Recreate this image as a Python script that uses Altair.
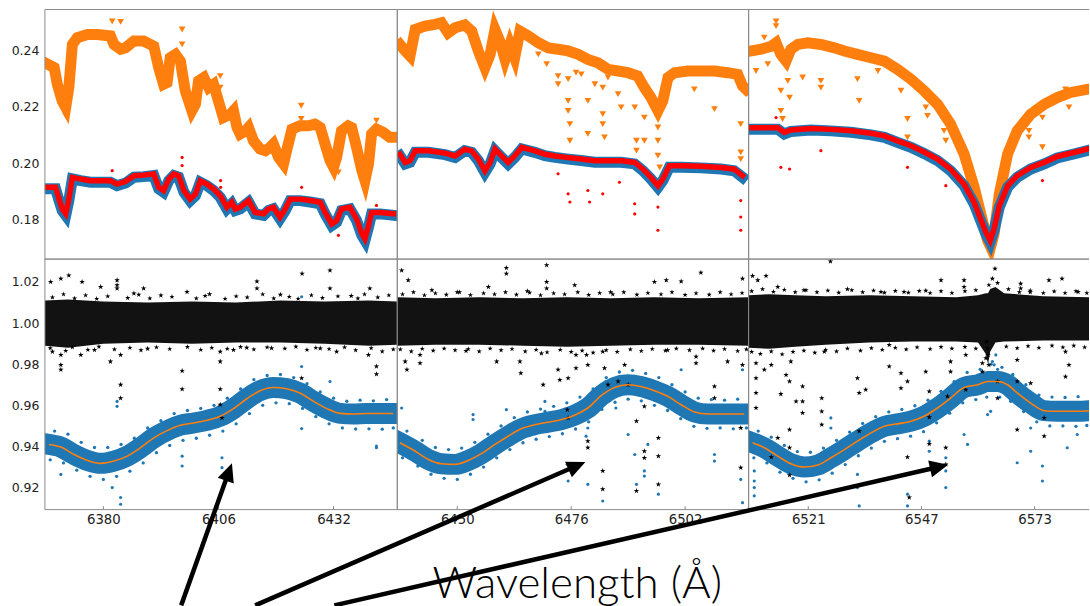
import altair as alt
import pandas as pd

ORANGE = "#ff7f0e"
BLUE = "#1f77b4"
RED = "#ff0000"
GRAY = "#8a8a8a"

# ---------------- axes ----------------
X_DOMAINS = [[6366.8, 6446.4], [6436.3, 6516.5], [6507.3, 6585.5]]
X_TICKS = [[6380, 6406, 6432], [6450, 6476, 6502], [6521, 6547, 6573]]
PANEL_W = [353, 352, 341]
TOP_H, BOT_H = 250, 251
TOP_Y = [0.1661, 0.25446]
BOT_Y = [0.9093, 1.0311]
TOP_TICKS = [0.18, 0.20, 0.22, 0.24]
BOT_TICKS = [0.92, 0.94, 0.96, 0.98, 1.00, 1.02]

# ---------------- top row: spectra ----------------
p1_orange_wl = [6367.4, 6368.9, 6369.6, 6370.7, 6371.5, 6372.2, 6373.0, 6374.1, 6376.4, 6378.6,
                6381.6, 6382.4, 6383.9, 6385.0, 6386.9, 6389.1, 6391.4, 6392.5, 6393.6, 6394.4,
                6395.1, 6396.3, 6397.4, 6398.5, 6400.0, 6400.8, 6401.5, 6402.7, 6403.8, 6404.9,
                6406.0, 6407.1, 6408.7, 6409.4, 6410.2, 6410.9, 6412.1, 6412.8, 6413.9, 6415.4,
                6416.6, 6417.7, 6418.4, 6419.6, 6420.7, 6421.4, 6422.6, 6424.4, 6426.3, 6427.8,
                6429.0, 6430.1, 6431.2, 6432.0, 6432.7, 6433.8, 6435.3, 6436.1, 6437.2, 6438.4,
                6439.1, 6439.9, 6440.6, 6441.7, 6443.2, 6444.7, 6445.8]
p1_orange_v = [0.2351, 0.2339, 0.2280, 0.2221, 0.2198, 0.2268, 0.2421, 0.2445, 0.2456, 0.2456,
               0.2451, 0.2421, 0.2404, 0.2409, 0.2433, 0.2433, 0.2415, 0.2339, 0.2280, 0.2286,
               0.2374, 0.2386, 0.2362, 0.2257, 0.2186, 0.2209, 0.2292, 0.2304, 0.2268, 0.2280,
               0.2221, 0.2162, 0.2174, 0.2186, 0.2127, 0.2104, 0.2115, 0.2127, 0.2080, 0.2051,
               0.2045, 0.2057, 0.2068, 0.2021, 0.1998, 0.2045, 0.2121, 0.2133, 0.2133, 0.2139,
               0.2127, 0.2068, 0.2010, 0.1986, 0.2021, 0.2115, 0.2133, 0.2127, 0.2057, 0.1974,
               0.1939, 0.1998, 0.2104, 0.2121, 0.2110, 0.2092, 0.2092]
p1_blue_wl = [6367.4, 6369.2, 6370.0, 6370.7, 6371.5, 6372.2, 6373.0, 6374.9, 6377.1, 6379.4,
              6381.6, 6383.1, 6385.0, 6386.9, 6389.1, 6391.4, 6392.5, 6393.6, 6394.8, 6395.9,
              6397.0, 6398.2, 6399.6, 6400.8, 6401.9, 6403.4, 6404.9, 6406.4, 6407.9, 6409.0,
              6409.8, 6410.9, 6412.8, 6414.3, 6416.2, 6417.3, 6418.4, 6419.9, 6421.1, 6422.2,
              6424.4, 6426.7, 6429.0, 6430.1, 6431.6, 6432.7, 6433.8, 6435.7, 6437.2, 6438.4,
              6439.1, 6439.9, 6440.6, 6442.5, 6445.5]
p1_blue_v = [0.1910, 0.1910, 0.1868, 0.1833, 0.1816, 0.1868, 0.1945, 0.1939, 0.1933, 0.1933,
             0.1933, 0.1921, 0.1930, 0.1951, 0.1953, 0.1957, 0.1910, 0.1898, 0.1939, 0.1957,
             0.1951, 0.1898, 0.1868, 0.1886, 0.1933, 0.1921, 0.1904, 0.1880, 0.1839, 0.1857,
             0.1833, 0.1839, 0.1863, 0.1821, 0.1816, 0.1833, 0.1839, 0.1804, 0.1833, 0.1868,
             0.1868, 0.1863, 0.1857, 0.1821, 0.1780, 0.1792, 0.1833, 0.1839, 0.1798, 0.1745,
             0.1727, 0.1774, 0.1821, 0.1821, 0.1816]

p2_orange_wl = [6436.9, 6438.1, 6439.2, 6440.4, 6442.6, 6444.9, 6446.4, 6447.9, 6449.5, 6451.7,
                6453.3, 6454.8, 6456.3, 6457.5, 6458.6, 6459.7, 6460.9, 6462.0, 6463.1, 6464.3,
                6466.2, 6468.5, 6470.8, 6473.0, 6475.3, 6477.6, 6479.8, 6482.1, 6484.4, 6486.7,
                6488.9, 6491.2, 6492.7, 6494.2, 6495.8, 6496.9, 6498.1, 6499.6, 6502.6, 6505.6,
                6508.7, 6511.7, 6514.0, 6515.1, 6515.9]
p2_orange_v = [0.2421, 0.2398, 0.2380, 0.2474, 0.2486, 0.2492, 0.2498, 0.2462, 0.2480, 0.2490,
               0.2468, 0.2398, 0.2339, 0.2386, 0.2474, 0.2433, 0.2368, 0.2421, 0.2374, 0.2468,
               0.2451, 0.2427, 0.2409, 0.2404, 0.2398, 0.2386, 0.2368, 0.2356, 0.2333, 0.2327,
               0.2321, 0.2309, 0.2268, 0.2233, 0.2186, 0.2221, 0.2304, 0.2321, 0.2327, 0.2327,
               0.2327, 0.2321, 0.2315, 0.2274, 0.2262]
p2_blue_wl = [6436.9, 6438.1, 6439.2, 6440.4, 6443.4, 6447.2, 6449.5, 6451.7, 6453.3, 6454.8,
              6456.3, 6457.5, 6458.6, 6460.1, 6461.6, 6463.1, 6464.7, 6467.7, 6470.0, 6472.3,
              6475.3, 6478.3, 6481.4, 6484.4, 6487.4, 6490.5, 6492.4, 6494.2, 6495.8, 6496.9,
              6498.4, 6501.1, 6505.6, 6510.2, 6513.2, 6515.1]
p2_blue_v = [0.2027, 0.1998, 0.2004, 0.2039, 0.2039, 0.2031, 0.2021, 0.2045, 0.2039, 0.2010,
             0.1968, 0.1998, 0.2045, 0.2021, 0.1998, 0.2021, 0.2051, 0.2039, 0.2027, 0.2021,
             0.2015, 0.2010, 0.2004, 0.2004, 0.2004, 0.1998, 0.1974, 0.1945, 0.1915, 0.1939,
             0.1986, 0.1986, 0.1984, 0.1980, 0.1974, 0.1951]

p3_orange_wl = [6507.9, 6510.2, 6512.5, 6513.6, 6514.7, 6515.9, 6517.0, 6518.6, 6520.9, 6523.9,
                6527.0, 6529.3, 6532.3, 6535.4, 6538.5, 6541.5, 6544.6, 6547.6, 6550.7, 6553.7,
                6556.8, 6559.1, 6561.0, 6562.2, 6562.9, 6563.7, 6564.9, 6566.8, 6569.0, 6572.1,
                6575.2, 6578.2, 6581.3, 6585.1]
p3_orange_v = [0.2398, 0.2404, 0.2415, 0.2427, 0.2386, 0.2362, 0.2404, 0.2421, 0.2427, 0.2421,
               0.2409, 0.2398, 0.2386, 0.2374, 0.2362, 0.2333, 0.2298, 0.2257, 0.2209, 0.2139,
               0.2033, 0.1916, 0.1798, 0.1727, 0.1704, 0.1751, 0.1892, 0.2033, 0.2115, 0.2174,
               0.2209, 0.2233, 0.2251, 0.2262]
p3_blue_wl = [6507.9, 6510.9, 6514.0, 6515.5, 6517.0, 6521.6, 6526.2, 6530.8, 6535.4, 6538.5,
              6541.5, 6544.6, 6547.6, 6550.7, 6553.7, 6556.8, 6559.1, 6560.6, 6561.8, 6562.8,
              6563.7, 6564.9, 6566.8, 6569.0, 6572.1, 6575.2, 6578.2, 6582.0, 6585.1]
p3_blue_v = [0.2121, 0.2121, 0.2121, 0.2104, 0.2113, 0.2118, 0.2115, 0.2110, 0.2101, 0.2092,
             0.2074, 0.2057, 0.2035, 0.2010, 0.1974, 0.1921, 0.1857, 0.1798, 0.1751, 0.1721,
             0.1763, 0.1845, 0.1915, 0.1951, 0.1980, 0.1998, 0.2019, 0.2033, 0.2045]

# outliers [wavelength, flux]
p1_orange_out = [[6382.0, 0.2503], [6383.9, 0.2501], [6397.8, 0.2474], [6397.8, 0.2421],
                 [6406.4, 0.2309], [6406.4, 0.2268], [6424.7, 0.2204], [6424.7, 0.2157],
                 [6433.1, 0.1968], [6441.7, 0.2151], [6371.5, 0.2168]]
p1_blue_out = [[6383.1, 0.2021], [6383.1, 0.1998], [6424.8, 0.1980], [6424.8, 0.1927]]
p1_red_out = [[6382.0, 0.1974], [6397.8, 0.2021], [6397.8, 0.1992], [6406.5, 0.1939],
              [6406.5, 0.1915], [6424.8, 0.1915], [6441.7, 0.1851], [6433.1, 0.1745]]

p2_orange_out = [[6473.0, 0.2309], [6473.0, 0.2280], [6475.3, 0.2221], [6475.3, 0.2186],
                 [6475.7, 0.2139], [6475.7, 0.2080], [6478.3, 0.2315], [6479.8, 0.2221],
                 [6479.8, 0.2104], [6483.2, 0.2268], [6483.2, 0.2174], [6483.2, 0.2139],
                 [6483.6, 0.2092], [6486.7, 0.2245], [6487.4, 0.2198], [6490.5, 0.2198],
                 [6490.9, 0.2080], [6490.9, 0.2045], [6492.7, 0.2162], [6492.7, 0.2080],
                 [6495.8, 0.2127], [6495.8, 0.2080], [6495.8, 0.2027], [6496.2, 0.1986],
                 [6514.7, 0.2139], [6514.7, 0.2039], [6514.7, 0.2015], [6508.7, 0.2192],
                 [6504.1, 0.2262], [6484.4, 0.2304], [6470.4, 0.2351], [6475.3, 0.2298],
                 [6477.1, 0.2321], [6468.5, 0.2386], [6481.4, 0.2280]]
p2_blue_out = [[6468.9, 0.2121], [6453.4, 0.2074], [6469.2, 0.2074], [6475.3, 0.1857],
               [6475.7, 0.1821], [6475.7, 0.1780], [6480.2, 0.1810], [6483.2, 0.1863],
               [6483.2, 0.1798], [6486.8, 0.1892], [6490.5, 0.1792], [6490.9, 0.1763],
               [6492.7, 0.1863], [6492.7, 0.1821], [6495.8, 0.1845], [6495.8, 0.1774],
               [6495.9, 0.1733], [6495.9, 0.1704], [6514.7, 0.1845], [6514.7, 0.1710],
               [6472.3, 0.1915], [6473.0, 0.1945], [6508.7, 0.1927], [6497.7, 0.1880],
               [6479.4, 0.1939]]
p2_red_out = [[6473.0, 0.1963], [6475.3, 0.1892], [6475.7, 0.1863], [6479.8, 0.1904],
              [6480.2, 0.1863], [6483.2, 0.1892], [6487.0, 0.1933], [6490.5, 0.1857],
              [6490.5, 0.1821], [6495.8, 0.1845], [6495.8, 0.1763], [6514.7, 0.1868],
              [6514.7, 0.1810], [6514.7, 0.1763]]

p3_orange_out = [[6513.6, 0.2503], [6513.6, 0.2486], [6510.9, 0.2445], [6509.0, 0.2327],
                 [6511.7, 0.2351], [6514.7, 0.2257], [6514.7, 0.2186], [6515.1, 0.2157],
                 [6516.3, 0.2292], [6516.7, 0.2233], [6519.7, 0.2304], [6523.9, 0.2292],
                 [6523.9, 0.2268], [6532.3, 0.2298], [6532.7, 0.2221], [6537.0, 0.2327],
                 [6542.3, 0.2257], [6543.8, 0.2157], [6543.8, 0.2092], [6548.0, 0.2198],
                 [6548.4, 0.2168], [6552.2, 0.2115], [6552.6, 0.2080], [6556.8, 0.1998],
                 [6571.7, 0.2115], [6571.7, 0.2092], [6574.8, 0.2162], [6574.8, 0.2057],
                 [6580.1, 0.2262], [6580.9, 0.2198]]
p3_blue_out = [[6508.6, 0.2045], [6512.1, 0.2057], [6514.7, 0.1963], [6514.7, 0.1927],
               [6516.7, 0.1951], [6519.7, 0.2021], [6523.9, 0.2033], [6532.3, 0.1986],
               [6532.7, 0.2021], [6543.8, 0.1951], [6543.8, 0.1904], [6548.4, 0.1951],
               [6552.6, 0.1880], [6557.2, 0.1921], [6572.1, 0.1933], [6574.8, 0.1898],
               [6580.5, 0.2004]]
p3_red_out = [[6513.6, 0.2162], [6514.7, 0.1986], [6516.7, 0.1980], [6523.9, 0.2045],
              [6543.8, 0.1986], [6552.6, 0.1921], [6574.8, 0.1939]]

# ---------------- bottom row: normalised spectra ----------------
p1_fit_wl = [6367.7, 6370.4, 6373.4, 6376.4, 6379.4, 6382.4, 6385.4, 6388.4, 6391.4, 6394.4,
             6397.4, 6400.4, 6403.4, 6406.4, 6409.4, 6412.4, 6415.4, 6418.4, 6421.4, 6424.4,
             6427.5, 6430.5, 6433.5, 6436.5, 6439.5, 6445.5]
p1_fit_v = [0.9410, 0.9397, 0.9361, 0.9332, 0.9318, 0.9329, 0.9353, 0.9394, 0.9442, 0.9477,
            0.9503, 0.9514, 0.9527, 0.9547, 0.9584, 0.9632, 0.9671, 0.9687, 0.9681, 0.9660,
            0.9619, 0.9584, 0.9561, 0.9558, 0.9560, 0.9560]
p2_fit_wl = [6436.9, 6440.4, 6443.4, 6446.4, 6449.5, 6452.5, 6455.5, 6458.6, 6461.6, 6464.7,
             6467.7, 6470.7, 6473.8, 6476.8, 6479.8, 6482.9, 6485.9, 6488.9, 6491.9, 6495.0,
             6498.0, 6501.1, 6504.1, 6507.2, 6511.7, 6515.5]
p2_fit_v = [0.9418, 0.9377, 0.9337, 0.9316, 0.9313, 0.9332, 0.9365, 0.9410, 0.9450, 0.9487,
            0.9506, 0.9518, 0.9531, 0.9552, 0.9587, 0.9648, 0.9687, 0.9700, 0.9692, 0.9671,
            0.9644, 0.9603, 0.9568, 0.9558, 0.9558, 0.9558]
p3_fit_wl = [6508.2, 6510.9, 6514.0, 6517.0, 6520.1, 6523.2, 6526.2, 6529.3, 6532.3, 6535.4,
             6538.5, 6541.5, 6544.6, 6547.6, 6550.7, 6553.7, 6556.8, 6559.9, 6562.2, 6564.5,
             6566.8, 6569.0, 6572.1, 6575.2, 6578.2, 6582.8, 6585.5]
p3_fit_v = [0.9418, 0.9394, 0.9353, 0.9316, 0.9300, 0.9310, 0.9345, 0.9385, 0.9426, 0.9466,
            0.9498, 0.9510, 0.9523, 0.9547, 0.9587, 0.9635, 0.9687, 0.9700, 0.9716, 0.9716,
            0.9700, 0.9660, 0.9611, 0.9574, 0.9571, 0.9571, 0.9574]

# dense core of the black (ratio) points
p1_band_wl = [6366.8, 6372, 6380, 6390, 6400, 6410, 6420, 6430, 6440, 6446.4]
p1_band_hi = [1.0110, 1.0115, 1.0105, 1.0100, 1.0105, 1.0100, 1.0110, 1.0105, 1.0110, 1.0105]
p1_band_lo = [0.9890, 0.9880, 0.9900, 0.9905, 0.9900, 0.9905, 0.9905, 0.9900, 0.9890, 0.9895]
p2_band_wl = [6436.3, 6445, 6455, 6465, 6475, 6485, 6495, 6505, 6516.5]
p2_band_hi = [1.0125, 1.0120, 1.0125, 1.0120, 1.0125, 1.0120, 1.0125, 1.0120, 1.0125]
p2_band_lo = [0.9890, 0.9895, 0.9895, 0.9890, 0.9885, 0.9890, 0.9895, 0.9895, 0.9890]
p3_band_wl = [6507.3, 6512, 6518, 6525, 6535, 6545, 6555, 6560, 6561.8, 6562.3, 6562.8,
              6564, 6566, 6575, 6585.5]
p3_band_hi = [1.0135, 1.0140, 1.0135, 1.0130, 1.0135, 1.0130, 1.0125, 1.0135, 1.0145, 1.0145,
              1.0165, 1.0175, 1.0145, 1.0130, 1.0125]
p3_band_lo = [0.9880, 0.9875, 0.9885, 0.9895, 0.9905, 0.9910, 0.9910, 0.9905, 0.9850, 0.9800,
              0.9860, 0.9905, 0.9910, 0.9915, 0.9915]

# black points scattered just outside the dense core
p1_star_edge = [[6368.5, 1.0125], [6371.0, 1.0140], [6373.5, 1.0120], [6376.0, 1.0135], [6378.5, 1.0118],
                [6381.0, 1.0130], [6385.5, 1.0122], [6388.0, 1.0138], [6390.5, 1.0120], [6395.5, 1.0128],
                [6401.0, 1.0120], [6403.0, 1.0132], [6407.5, 1.0118], [6410.0, 1.0130], [6412.5, 1.0125],
                [6416.0, 1.0140], [6418.5, 1.0120], [6422.0, 1.0128], [6424.0, 1.0118], [6427.0, 1.0135],
                [6429.5, 1.0122], [6433.0, 1.0130], [6437.5, 1.0120], [6439.0, 1.0140], [6442.0, 1.0125],
                [6444.5, 1.0135], [6368.0, 0.9878], [6371.5, 0.9865], [6373.0, 0.9882], [6376.5, 0.9870],
                [6379.0, 0.9885], [6382.5, 0.9872], [6386.0, 0.9880], [6388.5, 0.9868], [6392.0, 0.9882],
                [6395.0, 0.9874], [6399.0, 0.9884], [6402.0, 0.9870], [6404.5, 0.9880], [6408.0, 0.9875],
                [6411.0, 0.9884], [6414.0, 0.9872], [6417.0, 0.9882], [6421.0, 0.9876], [6423.5, 0.9885],
                [6426.0, 0.9870], [6428.0, 0.9880], [6431.0, 0.9874], [6434.5, 0.9882], [6437.0, 0.9868],
                [6440.5, 0.9878], [6443.0, 0.9862], [6445.5, 0.9872]]
p2_star_edge = [[6437.5, 1.0140], [6440.0, 1.0150], [6442.5, 1.0135], [6445.0, 1.0145], [6447.5, 1.0138],
                [6450.5, 1.0150], [6453.0, 1.0136], [6456.0, 1.0145], [6458.5, 1.0140], [6461.0, 1.0150],
                [6463.5, 1.0138], [6466.5, 1.0148], [6469.0, 1.0135], [6472.0, 1.0145], [6474.5, 1.0140],
                [6477.5, 1.0150], [6480.0, 1.0137], [6482.5, 1.0146], [6485.5, 1.0140], [6488.0, 1.0150],
                [6491.0, 1.0138], [6493.5, 1.0146], [6496.5, 1.0140], [6499.0, 1.0150], [6502.0, 1.0137],
                [6504.5, 1.0145], [6507.5, 1.0138], [6510.0, 1.0150], [6512.5, 1.0140], [6515.0, 1.0146],
                [6437.0, 0.9872], [6439.5, 0.9862], [6442.0, 0.9875], [6444.5, 0.9866], [6447.0, 0.9876],
                [6449.5, 0.9868], [6452.5, 0.9874], [6455.0, 0.9862], [6457.5, 0.9876], [6460.0, 0.9868],
                [6462.5, 0.9874], [6465.5, 0.9862], [6468.0, 0.9870], [6470.5, 0.9858], [6473.5, 0.9870],
                [6476.0, 0.9860], [6478.5, 0.9866], [6481.0, 0.9856], [6484.0, 0.9868], [6486.5, 0.9860],
                [6489.5, 0.9872], [6492.0, 0.9864], [6494.5, 0.9874], [6497.5, 0.9866], [6500.0, 0.9876],
                [6503.0, 0.9868], [6506.0, 0.9876], [6508.5, 0.9866], [6511.0, 0.9874], [6514.0, 0.9864],
                [6516.0, 0.9872]]
p3_star_edge = [[6508.0, 1.0155], [6510.5, 1.0165], [6513.0, 1.0152], [6515.5, 1.0162], [6518.0, 1.0150],
                [6520.5, 1.0160], [6523.0, 1.0150], [6525.5, 1.0158], [6528.0, 1.0148], [6531.0, 1.0160],
                [6533.5, 1.0150], [6536.0, 1.0158], [6538.5, 1.0148], [6541.0, 1.0156], [6544.0, 1.0148],
                [6546.5, 1.0156], [6549.0, 1.0146], [6551.5, 1.0155], [6554.0, 1.0146], [6557.0, 1.0155],
                [6559.5, 1.0160], [6562.5, 1.0185], [6564.5, 1.0195], [6567.0, 1.0165], [6569.5, 1.0150],
                [6572.0, 1.0158], [6575.0, 1.0146], [6577.5, 1.0154], [6580.0, 1.0146], [6582.5, 1.0155],
                [6585.0, 1.0146], [6508.0, 0.9860], [6510.0, 0.9850], [6512.5, 0.9862], [6515.0, 0.9848],
                [6517.5, 0.9860], [6520.0, 0.9866], [6522.5, 0.9856], [6525.0, 0.9870], [6527.5, 0.9862],
                [6530.0, 0.9876], [6533.0, 0.9866], [6535.5, 0.9878], [6538.0, 0.9870], [6541.0, 0.9880],
                [6543.5, 0.9872], [6546.0, 0.9882], [6549.0, 0.9874], [6551.5, 0.9884], [6554.0, 0.9876],
                [6557.0, 0.9884], [6559.5, 0.9876], [6566.5, 0.9886], [6569.0, 0.9878], [6571.5, 0.9888],
                [6574.0, 0.9880], [6577.0, 0.9890], [6579.5, 0.9882], [6582.0, 0.9890], [6584.5, 0.9882]]

# blue points scattered along the edges of the blue band
p1_blue_edge = [[6369.0, 0.9475], [6372.0, 0.9460], [6375.0, 0.9420], [6378.0, 0.9395], [6381.0, 0.9395],
                [6384.0, 0.9410], [6387.0, 0.9440], [6390.0, 0.9490], [6393.0, 0.9525], [6396.0, 0.9560],
                [6399.0, 0.9575], [6402.0, 0.9585], [6405.0, 0.9600], [6408.0, 0.9635], [6411.0, 0.9680],
                [6414.0, 0.9725], [6417.0, 0.9745], [6420.0, 0.9750], [6423.0, 0.9735], [6426.0, 0.9705],
                [6429.0, 0.9665], [6432.0, 0.9635], [6435.0, 0.9620], [6438.0, 0.9625], [6441.0, 0.9622],
                [6444.0, 0.9628], [6368.0, 0.9335], [6371.0, 0.9320], [6374.0, 0.9285], [6377.0, 0.9255],
                [6380.0, 0.9240], [6383.0, 0.9255], [6386.0, 0.9280], [6389.0, 0.9320], [6392.0, 0.9370],
                [6395.0, 0.9405], [6398.0, 0.9430], [6401.0, 0.9440], [6404.0, 0.9455], [6407.0, 0.9475],
                [6410.0, 0.9510], [6413.0, 0.9560], [6416.0, 0.9600], [6419.0, 0.9612], [6422.0, 0.9608],
                [6425.0, 0.9585], [6428.0, 0.9545], [6431.0, 0.9510], [6434.0, 0.9490], [6437.0, 0.9485],
                [6440.0, 0.9486], [6443.0, 0.9484], [6445.5, 0.9490]]
p2_blue_edge = [[6438.5, 0.9475], [6442.0, 0.9430], [6445.0, 0.9395], [6448.0, 0.9385], [6451.0, 0.9392],
                [6454.0, 0.9420], [6457.0, 0.9460], [6460.0, 0.9500], [6463.0, 0.9540], [6466.0, 0.9568],
                [6469.0, 0.9582], [6472.0, 0.9595], [6475.0, 0.9612], [6478.0, 0.9640], [6481.0, 0.9680],
                [6484.0, 0.9735], [6487.0, 0.9762], [6490.0, 0.9770], [6493.0, 0.9755], [6496.0, 0.9735],
                [6499.0, 0.9700], [6502.0, 0.9665], [6505.0, 0.9635], [6508.0, 0.9628], [6511.0, 0.9625],
                [6514.0, 0.9630], [6437.5, 0.9345], [6441.0, 0.9305], [6444.0, 0.9265], [6447.0, 0.9245],
                [6450.0, 0.9240], [6453.0, 0.9265], [6456.0, 0.9300], [6459.0, 0.9345], [6462.0, 0.9385],
                [6465.0, 0.9418], [6468.0, 0.9435], [6471.0, 0.9448], [6474.0, 0.9462], [6477.0, 0.9485],
                [6480.0, 0.9520], [6483.0, 0.9580], [6486.0, 0.9615], [6489.0, 0.9630], [6492.0, 0.9622],
                [6495.0, 0.9600], [6498.0, 0.9575], [6501.0, 0.9535], [6504.0, 0.9498], [6507.0, 0.9488],
                [6510.0, 0.9490], [6513.0, 0.9486], [6516.0, 0.9490]]
p3_blue_edge = [[6509.5, 0.9475], [6512.5, 0.9445], [6515.5, 0.9405], [6518.5, 0.9375], [6521.5, 0.9372],
                [6524.5, 0.9392], [6527.5, 0.9430], [6530.5, 0.9470], [6533.5, 0.9512], [6536.5, 0.9545],
                [6539.5, 0.9568], [6542.5, 0.9580], [6545.5, 0.9598], [6548.5, 0.9625], [6551.5, 0.9668],
                [6554.5, 0.9715], [6557.5, 0.9760], [6560.5, 0.9775], [6563.0, 0.9800], [6565.5, 0.9785],
                [6568.0, 0.9750], [6571.0, 0.9700], [6574.0, 0.9650], [6577.0, 0.9640], [6580.0, 0.9638],
                [6583.0, 0.9642], [6508.5, 0.9345], [6511.5, 0.9320], [6514.5, 0.9275], [6517.5, 0.9245],
                [6520.5, 0.9228], [6523.5, 0.9238], [6526.5, 0.9270], [6529.5, 0.9312], [6532.5, 0.9355],
                [6535.5, 0.9392], [6538.5, 0.9425], [6541.5, 0.9438], [6544.5, 0.9450], [6547.5, 0.9472],
                [6550.5, 0.9515], [6553.5, 0.9562], [6556.5, 0.9612], [6559.5, 0.9628], [6562.0, 0.9640],
                [6565.0, 0.9640], [6567.5, 0.9620], [6570.5, 0.9570], [6573.5, 0.9520], [6576.5, 0.9500],
                [6579.5, 0.9500], [6582.5, 0.9498], [6585.0, 0.9502]]

p1_stars = [[6368.1, 1.0200], [6370.4, 1.0216], [6372.2, 1.0232], [6375.2, 1.0200],
            [6379.4, 1.0176], [6383.1, 1.0208], [6383.1, 1.0184], [6383.1, 1.0168],
            [6386.9, 1.0144], [6389.1, 1.0168], [6398.9, 1.0152], [6414.7, 1.0203],
            [6414.7, 1.0168], [6424.9, 1.0240], [6431.2, 1.0256], [6431.2, 1.0168],
            [6440.2, 1.0168], [6368.5, 0.9861], [6370.4, 0.9845], [6370.4, 0.9797],
            [6370.4, 0.9773], [6374.9, 0.9845], [6381.6, 0.9813], [6383.9, 0.9845],
            [6383.9, 0.9700], [6383.9, 0.9635], [6397.8, 0.9768], [6397.8, 0.9679],
            [6406.4, 0.9861], [6406.4, 0.9813], [6406.4, 0.9679], [6406.4, 0.9603],
            [6406.8, 0.9539], [6424.8, 0.9732], [6439.9, 0.9845], [6441.7, 0.9789],
            [6441.7, 0.9752], [6432.7, 0.9861], [6429.0, 0.9877], [6409.4, 0.9869],
            [6412.4, 0.9880], [6393.0, 1.0135], [6404.0, 1.0140], [6420.0, 1.0138],
            [6436.0, 1.0132], [6378.0, 0.9870], [6390.0, 0.9875], [6418.0, 0.9878]]
p1_blue_out = [[6383.1, 0.9619], [6383.1, 0.9595], [6397.8, 0.9353], [6397.8, 0.9305],
               [6383.9, 0.9152], [6383.9, 0.9119], [6406.8, 0.9345], [6406.8, 0.9297],
               [6424.8, 0.9487], [6431.2, 0.9716], [6441.7, 0.9402], [6441.7, 0.9394],
               [6424.8, 0.9789], [6370.4, 0.9264], [6382.0, 0.9200], [6424.8, 1.0128]]

p2_stars = [[6437.3, 1.0256], [6438.8, 1.0208], [6461.2, 1.0268], [6461.2, 1.0240],
            [6470.4, 1.0281], [6470.4, 1.0200], [6470.4, 1.0168], [6476.8, 1.0184],
            [6495.0, 1.0200], [6497.7, 1.0208], [6501.1, 1.0203], [6505.6, 1.0245],
            [6515.1, 1.0216], [6457.1, 1.0176], [6444.2, 1.0160], [6438.1, 0.9813],
            [6438.5, 0.9773], [6441.5, 0.9845], [6441.5, 0.9805], [6459.0, 0.9813],
            [6464.3, 0.9813], [6464.5, 0.9756], [6469.2, 0.9853], [6469.6, 0.9700],
            [6473.0, 0.9773], [6473.4, 0.9724], [6475.3, 0.9732], [6475.1, 0.9579],
            [6475.3, 0.9539], [6477.1, 0.9845], [6477.1, 0.9781], [6479.5, 0.9845],
            [6479.8, 0.9797], [6479.8, 0.9426], [6479.8, 0.9394], [6483.2, 0.9281],
            [6483.2, 0.9192], [6483.2, 0.9861], [6483.6, 0.9781], [6488.2, 0.9797],
            [6490.9, 0.9523], [6490.9, 0.9184], [6492.7, 0.9595], [6492.7, 0.9377],
            [6492.7, 0.9345], [6495.9, 0.9442], [6495.9, 0.9353], [6495.9, 0.9216],
            [6508.7, 0.9692], [6508.7, 0.9635], [6514.7, 0.9490], [6514.7, 0.9297],
            [6515.1, 0.9797], [6511.7, 0.9813], [6504.5, 0.9837], [6504.5, 0.9805],
            [6486.7, 0.9716], [6489.0, 0.9700], [6484.4, 0.9700], [6450.0, 1.0150],
            [6466.0, 1.0155], [6485.0, 1.0150], [6452.0, 0.9865], [6498.0, 0.9868]]
p2_blue_out = [[6437.3, 0.9587], [6453.6, 0.9555], [6453.6, 0.9531], [6461.2, 0.9579],
               [6470.0, 0.9619], [6470.0, 0.9571], [6470.4, 0.9523], [6475.1, 0.9313],
               [6475.3, 0.9232], [6479.8, 0.9216], [6483.2, 0.9135], [6479.8, 0.9490],
               [6479.4, 0.9450], [6483.9, 0.9716], [6486.2, 0.9587], [6490.5, 0.9361],
               [6490.9, 0.9216], [6492.7, 0.9281], [6492.7, 0.9256], [6495.9, 0.9168],
               [6501.1, 0.9773], [6508.7, 0.9361], [6508.7, 0.9329], [6514.7, 0.9240],
               [6515.1, 0.9127], [6515.1, 0.9773], [6489.0, 0.9458], [6493.5, 0.9410]]

p3_stars = [[6508.2, 1.0229], [6509.4, 1.0208], [6511.3, 1.0229], [6526.1, 1.0300],
            [6551.5, 1.0208], [6556.8, 1.0208], [6556.8, 1.0176], [6563.9, 1.0265],
            [6563.3, 1.0216], [6569.8, 1.0192], [6569.8, 1.0168], [6576.3, 1.0208],
            [6579.3, 1.0216], [6514.0, 1.0176], [6537.7, 1.0152], [6543.0, 1.0152],
            [6509.0, 0.9805], [6509.0, 0.9732], [6509.0, 0.9660], [6509.0, 0.9587],
            [6510.9, 0.9773], [6512.5, 0.9797], [6512.5, 0.9348], [6514.0, 0.9442],
            [6514.7, 0.9655], [6515.9, 0.9748], [6516.7, 0.9716], [6517.0, 0.9813],
            [6516.7, 0.9482], [6516.7, 0.9394], [6516.7, 0.9261], [6518.2, 0.9619],
            [6519.7, 0.9619], [6519.7, 0.9563], [6519.7, 0.9692], [6524.1, 0.9635],
            [6524.1, 0.9571], [6524.1, 0.9506], [6524.7, 0.9861], [6532.3, 0.9732],
            [6532.7, 0.9660], [6532.7, 0.9474], [6534.2, 0.9676], [6539.6, 0.9894],
            [6539.6, 0.9789], [6542.3, 0.9756], [6542.3, 0.9684], [6543.8, 0.9716],
            [6543.8, 0.9348], [6544.2, 0.9152], [6548.0, 0.9764], [6548.8, 0.9668],
            [6548.8, 0.9542], [6548.8, 0.9413], [6552.6, 0.9394], [6552.6, 0.9313],
            [6553.0, 0.9644], [6553.7, 0.9813], [6553.7, 0.9764], [6557.2, 0.9845],
            [6557.2, 0.9676], [6561.0, 0.9805], [6561.0, 0.9764], [6561.8, 0.9829],
            [6564.5, 0.9716], [6564.5, 0.9635], [6569.0, 0.9821], [6569.0, 0.9716],
            [6569.0, 0.9482], [6572.1, 0.9708], [6575.2, 0.9539], [6575.2, 0.9450],
            [6580.1, 0.9740], [6580.9, 0.9797], [6580.1, 0.9861], [6562.2, 0.9877],
            [6562.3, 0.9845], [6562.5, 0.9797], [6562.0, 0.9910], [6520.0, 1.0160],
            [6530.0, 1.0165], [6548.0, 1.0158], [6572.0, 1.0150], [6583.0, 1.0152]]
p3_blue_out = [[6508.6, 0.9281], [6508.6, 0.9232], [6508.6, 0.9200], [6508.6, 0.9160],
               [6526.2, 0.9539], [6526.2, 0.9490], [6532.3, 0.9264], [6532.3, 0.9200],
               [6532.7, 0.9111], [6543.8, 0.9168], [6543.8, 0.9111], [6548.8, 0.9426],
               [6548.8, 0.9377], [6552.6, 0.9345], [6552.6, 0.9281], [6552.6, 0.9200],
               [6556.8, 0.9458], [6557.6, 0.9410], [6562.2, 0.9555], [6562.9, 0.9571],
               [6564.1, 0.9845], [6569.0, 0.9321], [6572.1, 0.9377], [6574.8, 0.9305],
               [6574.8, 0.9232], [6580.5, 0.9394], [6582.8, 0.9458], [6572.1, 0.9490],
               [6548.8, 0.9523], [6563.3, 0.9813], [6563.7, 0.9797], [6564.5, 0.9775]]

# ---------------- annotations (in each bottom panel's data units) ----------------
arrow_tail = [[6397.58, 0.86275], [6403.86, 0.86275], [6412.12, 0.86275]]
arrow_end = [[6408.28, 0.9274], [6477.14, 0.9305], [6550.89, 0.9300]]
arrow_tip = [[6409.05, 0.9319], [6479.24, 0.9324], [6553.13, 0.9311]]
arrow_angle = [19.6, 66.5, 77.1]
label_pos = [6477.4, 0.8662]
label_text = "Wavelength (Å)"

STAR = ("M0,-1L0.2245,-0.309L0.951,-0.309L0.363,0.118L0.588,0.809L0,0.382"
        "L-0.588,0.809L-0.363,0.118L-0.951,-0.309L-0.2245,-0.309Z")
HEAD = "M0,0L0.46,1L-0.46,1Z"

LABEL = dict(labelFont="DejaVu Sans", labelColor="#222222",
             ticks=False, domain=False, grid=False, title=None)


def series(wl, v):
    return pd.DataFrame({"wl": wl, "v": v})


def pairs(p):
    return pd.DataFrame(p, columns=["wl", "v"])


def frame(w, h, right=True):
    one = alt.Data(values=[{"k": 0}])
    rules = [
        alt.Chart(one).mark_rule(color=GRAY, strokeWidth=1).encode(
            x=alt.value(0), x2=alt.value(w), y=alt.value(0)),
        alt.Chart(one).mark_rule(color=GRAY, strokeWidth=1).encode(
            x=alt.value(0), x2=alt.value(w), y=alt.value(h)),
        alt.Chart(one).mark_rule(color=GRAY, strokeWidth=1).encode(
            x=alt.value(0), y=alt.value(0), y2=alt.value(h)),
    ]
    if right:
        rules.append(alt.Chart(one).mark_rule(color=GRAY, strokeWidth=1).encode(
            x=alt.value(w), y=alt.value(0), y2=alt.value(h)))
    return rules


def top_panel(i, o_wl, o_v, b_wl, b_v, o_out, b_out, r_out):
    xs = alt.X("wl:Q", scale=alt.Scale(domain=X_DOMAINS[i], nice=False, zero=False), axis=None)
    yax = alt.Axis(values=TOP_TICKS, format=".2f", labelPadding=6, labelFontSize=12.5, **LABEL) if i == 0 else None
    ys = alt.Y("v:Q", scale=alt.Scale(domain=TOP_Y, nice=False, zero=False), axis=yax)
    orange = series(o_wl, o_v)
    blue = series(b_wl, b_v)
    layers = [
        alt.Chart(orange).mark_line(color=ORANGE, strokeWidth=11, strokeCap="square", clip=True).encode(x=xs, y=ys),
        alt.Chart(orange).mark_point(shape="triangle-down", filled=True, size=60, color=ORANGE, opacity=1, clip=True).encode(x=xs, y=ys),
        alt.Chart(pairs(o_out)).mark_point(shape="triangle-down", filled=True, size=45, color=ORANGE, opacity=1, clip=True).encode(x=xs, y=ys),
        alt.Chart(blue).mark_line(color=BLUE, strokeWidth=11, strokeCap="square", clip=True).encode(x=xs, y=ys),
        alt.Chart(blue).mark_point(shape="square", filled=True, size=50, color=BLUE, opacity=1, clip=True).encode(x=xs, y=ys),
        alt.Chart(pairs(b_out)).mark_point(shape="square", filled=True, size=38, color=BLUE, opacity=1, clip=True).encode(x=xs, y=ys),
        alt.Chart(blue).mark_line(color=RED, strokeWidth=5.5, strokeCap="square", yOffset=-1.5, clip=True).encode(x=xs, y=ys),
        alt.Chart(pairs(r_out)).mark_point(shape="circle", filled=True, size=10, color=RED, opacity=1, clip=True).encode(x=xs, y=ys),
    ] + frame(PANEL_W[i], TOP_H, right=(i < 2))
    return alt.layer(*layers).properties(width=PANEL_W[i], height=TOP_H)


def bottom_panel(i, f_wl, f_v, band_wl, band_hi, band_lo, star_edge, blue_edge, stars, b_out):
    xscale = alt.Scale(domain=X_DOMAINS[i], nice=False, zero=False)
    yscale = alt.Scale(domain=BOT_Y, nice=False, zero=False)
    xax = alt.Axis(values=X_TICKS[i], format="d", labelPadding=3, labelFontSize=13.3, **LABEL)
    yax = alt.Axis(values=BOT_TICKS, format=".2f", labelPadding=6, labelFontSize=12.5, **LABEL) if i == 0 else None
    xs = alt.X("wl:Q", scale=xscale, axis=xax)
    ys = alt.Y("v:Q", scale=yscale, axis=yax)
    fit = series(f_wl, f_v)
    band = pd.DataFrame({"wl": band_wl, "v": band_hi, "lo": band_lo})
    tx, ty = arrow_tail[i]
    ex, ey = arrow_end[i]
    hx, hy = arrow_tip[i]
    arrow = pd.DataFrame({"wl": [tx], "v": [ty], "wl2": [ex], "v2": [ey]})
    head = pd.DataFrame({"wl": [hx], "v": [hy]})
    layers = [
        alt.Chart(band).mark_area(color="black", opacity=0.93, clip=True).encode(x=xs, y=ys, y2="lo:Q"),
        alt.Chart(pairs(star_edge)).mark_point(shape=STAR, filled=True, size=30, color="black", opacity=1, clip=True).encode(x=xs, y=ys),
        alt.Chart(fit).mark_line(color=BLUE, strokeWidth=21, interpolate="monotone", strokeCap="square", clip=True).encode(x=xs, y=ys),
        alt.Chart(pairs(blue_edge)).mark_point(shape="circle", filled=True, size=11, color=BLUE, opacity=1, clip=True).encode(x=xs, y=ys),
        alt.Chart(pairs(b_out)).mark_point(shape="circle", filled=True, size=10, color=BLUE, opacity=1, clip=True).encode(x=xs, y=ys),
        alt.Chart(pairs(stars)).mark_point(shape=STAR, filled=True, size=34, color="black", opacity=1, clip=True).encode(x=xs, y=ys),
        alt.Chart(fit).mark_line(color=ORANGE, strokeWidth=1.6, interpolate="monotone", clip=True).encode(x=xs, y=ys),
        alt.Chart(pd.DataFrame({"wl": X_TICKS[i]})).mark_rule(color=GRAY, strokeWidth=1).encode(
            x=xs, y=alt.value(BOT_H - 3.5), y2=alt.value(BOT_H)),
    ] + frame(PANEL_W[i], BOT_H, right=(i < 2))
    if i == 1:
        lab = pd.DataFrame({"wl": [label_pos[0]], "v": [label_pos[1]], "t": [label_text]})
        layers.append(alt.Chart(lab).mark_text(font="Lato", fontWeight=300, fontSize=44, align="center",
                                               baseline="alphabetic", color="black").encode(x=xs, y=ys, text="t:N"))
    layers += [
        alt.Chart(arrow).mark_rule(color="black", strokeWidth=4.5, strokeCap="butt").encode(
            x=xs, y=ys, x2="wl2:Q", y2="v2:Q"),
        alt.Chart(head).mark_point(shape=HEAD, filled=True, size=1369, color="black", opacity=1,
                                   angle=arrow_angle[i]).encode(x=xs, y=ys),
    ]
    return alt.layer(*layers).properties(width=PANEL_W[i], height=BOT_H)


panels = [
    top_panel(0, p1_orange_wl, p1_orange_v, p1_blue_wl, p1_blue_v, p1_orange_out, p1_blue_out, p1_red_out),
    top_panel(1, p2_orange_wl, p2_orange_v, p2_blue_wl, p2_blue_v, p2_orange_out, p2_blue_out, p2_red_out),
    top_panel(2, p3_orange_wl, p3_orange_v, p3_blue_wl, p3_blue_v, p3_orange_out, p3_blue_out, p3_red_out),
    bottom_panel(0, p1_fit_wl, p1_fit_v, p1_band_wl, p1_band_hi, p1_band_lo, p1_star_edge, p1_blue_edge,
                 p1_stars, p1_blue_out),
    bottom_panel(1, p2_fit_wl, p2_fit_v, p2_band_wl, p2_band_hi, p2_band_lo, p2_star_edge, p2_blue_edge,
                 p2_stars, p2_blue_out),
    bottom_panel(2, p3_fit_wl, p3_fit_v, p3_band_wl, p3_band_hi, p3_band_lo, p3_star_edge, p3_blue_edge,
                 p3_stars, p3_blue_out),
]

chart = alt.concat(*panels, columns=3, spacing=0, bounds="flush").properties(
    padding={"left": 11, "top": 8, "right": 0, "bottom": 0}
).configure_view(stroke=None)

chart.save("out.html", embed_options={"renderer": "svg", "actions": False})
